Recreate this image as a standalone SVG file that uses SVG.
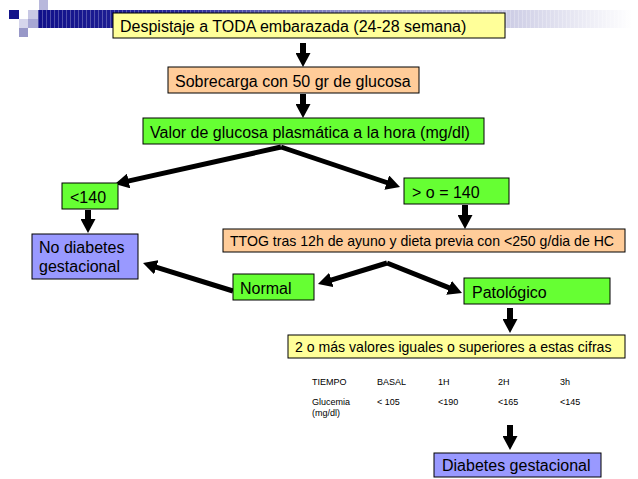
<svg xmlns="http://www.w3.org/2000/svg" width="638" height="479" viewBox="0 0 638 479">
<style>
.box{stroke:#000;stroke-width:1}
.y{fill:#FFFF99}.p{fill:#FFCC99}.g{fill:#66FF33}.b{fill:#9999FF}
text{font-family:"Liberation Sans",Arial,sans-serif;fill:#000}
.t15{font-size:16px}.t13{font-size:14.1px}.t9{font-size:9px}
.arr{stroke:#000;stroke-width:5;fill:none;marker-end:url(#ah)}
.dn{stroke:#000;stroke-width:6;fill:none;marker-end:url(#ah)}
</style>
<defs>
<marker id="ah" viewBox="0 0 14 15" refX="3" refY="7.5" markerWidth="14" markerHeight="15" markerUnits="userSpaceOnUse" orient="auto">
<path d="M0,0 L14,7.5 L0,15 z" fill="#000"/>
</marker>
<linearGradient id="bar" x1="38" y1="0" x2="632" y2="0" gradientUnits="userSpaceOnUse">
<stop offset="0" stop-color="#10108a"/>
<stop offset="0.25" stop-color="#2a2a9a"/>
<stop offset="0.5" stop-color="#8888c4"/>
<stop offset="0.8" stop-color="#cfcfe6"/>
<stop offset="1" stop-color="#ffffff"/>
</linearGradient>
<pattern id="stripes" x="38" y="0" width="4" height="10" patternUnits="userSpaceOnUse">
<rect x="0" y="0" width="1" height="10" fill="#ffffff" opacity="0.25"/>
</pattern>
</defs>
<rect width="638" height="479" fill="#fff"/>
<g id="header">
<rect x="38" y="10" width="594" height="18" fill="url(#bar)"/>
<rect x="38" y="10" width="594" height="18" fill="url(#stripes)"/>
<rect x="39" y="0" width="9" height="10" fill="#b8b8dc"/>
<rect x="9" y="10" width="10" height="9" fill="#14148a"/>
<rect x="28" y="10" width="10" height="9" fill="#c8c8e4"/>
<rect x="19" y="19" width="9" height="9" fill="#d6d6ec"/>
<rect x="28" y="19" width="10" height="9" fill="#a8a8d4"/>
<rect x="19" y="28" width="9" height="9" fill="#9898c8"/>
</g>
<g id="connectors">
<line class="dn" x1="303" y1="43" x2="303" y2="56"/>
<line class="dn" x1="303" y1="94" x2="303" y2="107"/>
<line class="arr" x1="281" y1="147" x2="125.7" y2="181.6"/>
<line class="arr" x1="281" y1="147" x2="389.6" y2="183.5"/>
<line class="dn" x1="88" y1="210" x2="88" y2="222"/>
<line class="dn" x1="465" y1="205" x2="465" y2="218"/>
<line class="arr" x1="387" y1="263" x2="328.5" y2="280.8"/>
<line class="arr" x1="387" y1="263" x2="451.8" y2="288.9"/>
<line class="arr" x1="233" y1="291" x2="153.5" y2="266.3"/>
<line class="dn" x1="510" y1="308" x2="510" y2="322"/>
<line class="dn" x1="510" y1="425" x2="510" y2="439"/>
</g>
<g id="n1"><rect class="box y" x="113" y="13" width="392" height="25"/><text class="t15" x="120" y="31.5">Despistaje a TODA embarazada (24-28 semana)</text></g>
<g id="n2"><rect class="box p" x="168" y="67" width="251" height="26"/><text class="t15" x="175" y="86.5">Sobrecarga con 50 gr de glucosa</text></g>
<g id="n3"><rect class="box g" x="143" y="118" width="341" height="26"/><text class="t15" x="150" y="137.5">Valor de glucosa plasmática a la hora (mg/dl)</text></g>
<g id="n4"><rect class="box g" x="62" y="183" width="56" height="26"/><text class="t15" x="70" y="202.5">&lt;140</text></g>
<g id="n5"><rect class="box b" x="32" y="234" width="106" height="45"/><text class="t15" x="39" y="253">No diabetes</text><text class="t15" x="39" y="272">gestacional</text></g>
<g id="n6"><rect class="box g" x="404" y="178" width="105" height="26"/><text class="t15" x="412" y="197.5">&gt; o = 140</text></g>
<g id="n7"><rect class="box p" x="223" y="229" width="402" height="23"/><text class="t13" x="230" y="246">TTOG tras 12h de ayuno y dieta previa con &lt;250 g/dia de HC</text></g>
<g id="n8"><rect class="box g" x="233" y="274" width="81" height="26"/><text class="t15" x="240" y="293.5">Normal</text></g>
<g id="n9"><rect class="box g" x="464" y="278" width="146" height="26"/><text class="t15" x="472" y="297.5">Patológico</text></g>
<g id="n10"><rect class="box y" x="288" y="335" width="337" height="23"/><text class="t13" x="295" y="352">2 o más valores iguales o superiores a estas cifras</text></g>
<g id="table">
<text class="t9" x="312" y="385">TIEMPO</text>
<text class="t9" x="377" y="385">BASAL</text>
<text class="t9" x="438" y="385">1H</text>
<text class="t9" x="498" y="385">2H</text>
<text class="t9" x="560" y="385">3h</text>
<text class="t9" x="312" y="405">Glucemia</text>
<text class="t9" x="312" y="416">(mg/dl)</text>
<text class="t9" x="377" y="405">&lt; 105</text>
<text class="t9" x="438" y="405">&lt;190</text>
<text class="t9" x="498" y="405">&lt;165</text>
<text class="t9" x="560" y="405">&lt;145</text>
</g>
<g id="n11"><rect class="box b" x="434" y="453" width="167" height="24"/><text class="t15" x="442" y="470.5">Diabetes gestacional</text></g>
</svg>
